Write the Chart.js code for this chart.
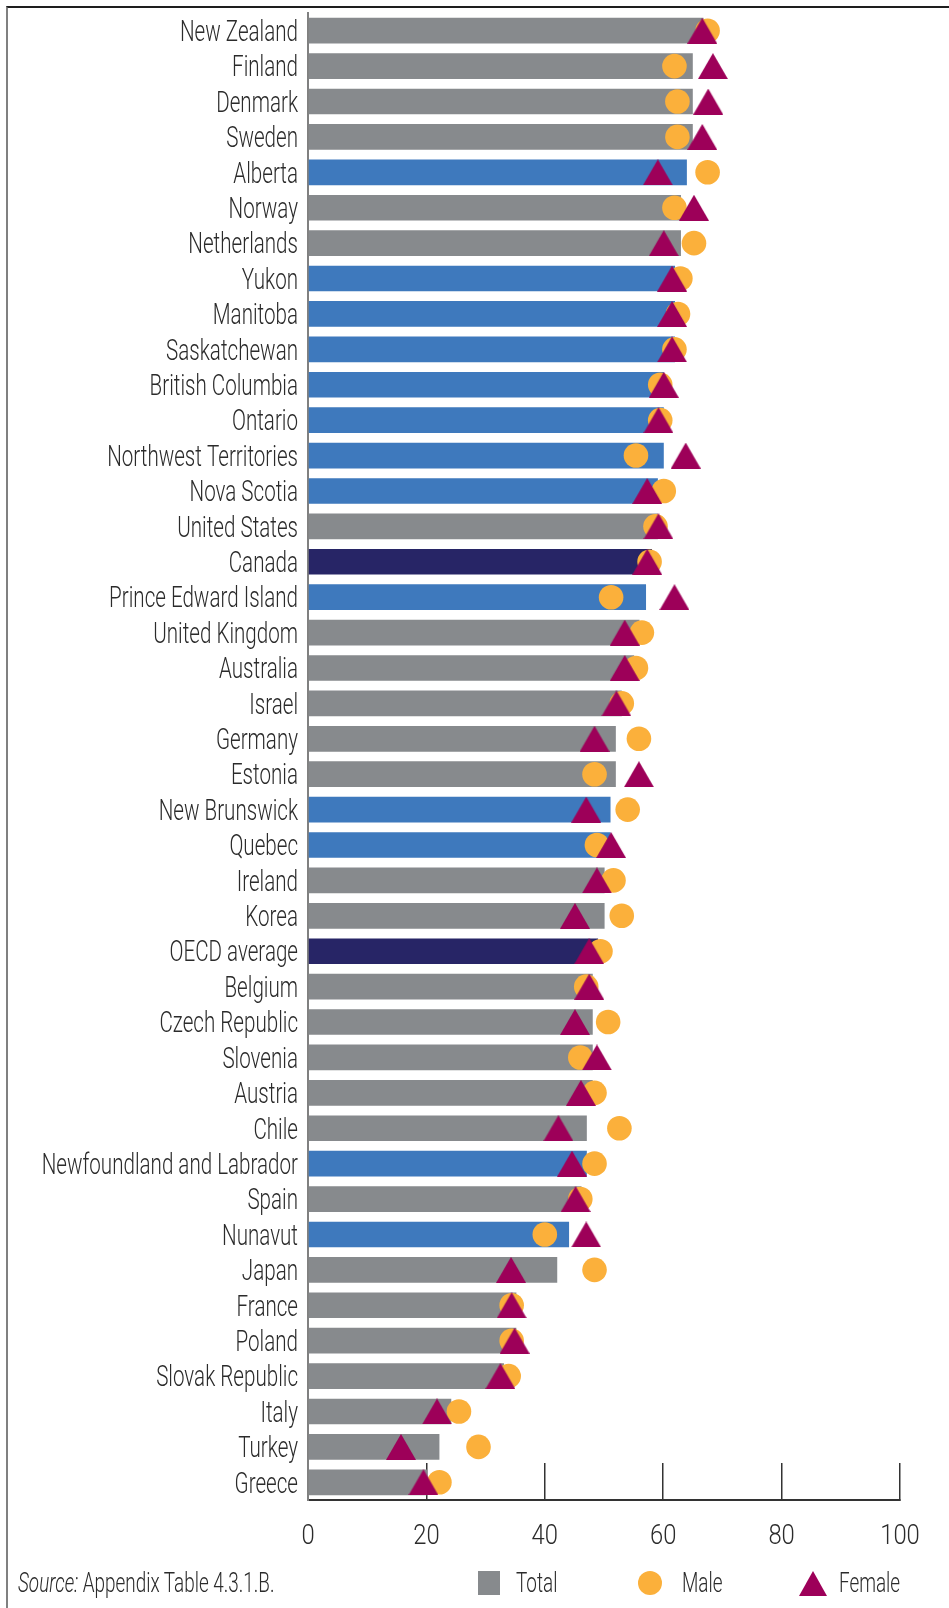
<!DOCTYPE html>
<html>
<head>
<meta charset="utf-8">
<script src="https://cdn.jsdelivr.net/npm/chart.js@4.4.1/dist/chart.umd.min.js"></script>
<style>
  html, body { margin: 0; padding: 0; background: #fff; }
  #wrap { position: relative; width: 949px; height: 1608px; overflow: hidden; }
  #frame { position: absolute; left: 6px; top: 6px; right: 0; bottom: 0;
           border-top: 2px solid #1e1e1e; border-left: 2px solid #808080; }
  canvas { position: absolute; left: 0; top: 0; }
  .foot { position: absolute; top: 1567px; height: 32px; line-height: 32px;
          font-family: Roboto, 'DejaVu Sans', sans-serif; font-weight: 300; font-size: 27px;
          color: #2b2b2b; white-space: nowrap; transform: scaleX(0.7); transform-origin: 0 50%; }
  .mark { position: absolute; top: 1571px; }
</style>
</head>
<body>
<div id="wrap">
  <div id="frame"></div>
  <canvas id="chart" width="949" height="1608"></canvas>
  <div class="foot" style="left:18px"><i>Source:</i> Appendix Table 4.3.1.B.</div>
  <div id="mTotal" class="mark" style="left:478px;width:22px;height:24px"></div>
  <div class="foot" style="left:516px">Total</div>
  <div id="mMale" class="mark" style="left:638px;width:24px;height:24px;border-radius:50%"></div>
  <div class="foot" style="left:682px">Male</div>
  <div id="mFemale" class="mark" style="left:799px;width:28px;height:25px;clip-path:polygon(50% 0,100% 100%,0 100%)"></div>
  <div class="foot" style="left:839px">Female</div>
</div>
<script>
// jurisdictions, top to bottom
const labels = [
  'New Zealand', 'Finland', 'Denmark', 'Sweden', 'Alberta', 'Norway', 'Netherlands',
  'Yukon', 'Manitoba', 'Saskatchewan', 'British Columbia', 'Ontario',
  'Northwest Territories', 'Nova Scotia', 'United States', 'Canada',
  'Prince Edward Island', 'United Kingdom', 'Australia', 'Israel', 'Germany',
  'Estonia', 'New Brunswick', 'Quebec', 'Ireland', 'Korea', 'OECD average',
  'Belgium', 'Czech Republic', 'Slovenia', 'Austria', 'Chile',
  'Newfoundland and Labrador', 'Spain', 'Nunavut', 'Japan', 'France', 'Poland',
  'Slovak Republic', 'Italy', 'Turkey', 'Greece'
];
// c = country, p = province/territory, a = Canada / OECD average
const kind = [
  'c', 'c', 'c', 'c', 'p', 'c', 'c',
  'p', 'p', 'p', 'p', 'p',
  'p', 'p', 'c', 'a',
  'p', 'c', 'c', 'c', 'c',
  'c', 'p', 'p', 'c', 'c', 'a',
  'c', 'c', 'c', 'c', 'c',
  'p', 'c', 'p', 'c', 'c', 'c',
  'c', 'c', 'c', 'c'
];
const totalPct = [
  66.8, 65, 65, 65, 64, 63, 63,
  62, 62, 62, 60.1, 60.1,
  60.1, 59.1, 59.1, 58.1,
  57.1, 56, 55.1, 53, 52,
  52, 51.1, 51.1, 50.1, 50.1, 49,
  48.1, 48.1, 48.1, 48.1, 47.1,
  47.1, 46.2, 44.1, 42.1, 35.2, 35.2,
  33.1, 24.2, 22.2, 20.1
];
const malePct = [
  67.5, 61.9, 62.4, 62.4, 67.5, 61.9, 65.2,
  62.9, 62.5, 61.9, 59.5, 59.5,
  55.4, 60.1, 58.7, 57.7,
  51.2, 56.4, 55.4, 53, 55.9,
  48.4, 54, 48.8, 51.6, 53, 49.4,
  47, 50.7, 46, 48.4, 52.6,
  48.4, 46, 40, 48.4, 34.4, 34.4,
  33.9, 25.5, 28.8, 22.2
];
const femalePct = [
  66.6, 68.4, 67.6, 66.6, 59.1, 65.2, 60.1,
  61.5, 61.5, 61.5, 60.1, 59.2,
  63.8, 57.3, 59.2, 57.3,
  61.9, 53.5, 53.5, 52.1, 48.4,
  55.9, 47, 51.2, 48.8, 45.1, 47.5,
  47.5, 45.1, 48.8, 46.1, 42.3,
  44.6, 45.2, 47, 34.3, 34.4, 34.9,
  32.5, 21.8, 15.7, 19.5
];

const BAR_COLORS = { c: '#878a8d', p: '#3e79bd', a: '#272566' };
const MALE = '#fbb03b';
const FEMALE = '#9d0059';
const INK = '#2b2b2b';

document.getElementById('mTotal').style.background = BAR_COLORS.c;
document.getElementById('mMale').style.background = MALE;
document.getElementById('mFemale').style.background = FEMALE;

// chart.js centres its own triangle on the circumcentre; this one sits on the bar's middle
function triangle(w, h, color) {
  const c = document.createElement('canvas');
  c.width = w; c.height = h;
  const g = c.getContext('2d');
  g.fillStyle = color;
  g.beginPath();
  g.moveTo(w / 2, 0);
  g.lineTo(w, h);
  g.lineTo(0, h);
  g.closePath();
  g.fill();
  return c;
}

// no condensed face is installed, so tick labels are drawn squeezed at the scale's own positions
const condensedTicks = {
  id: 'condensedTicks',
  afterDraw(chart) {
    const ctx = chart.ctx;
    const xs = chart.scales.x, ys = chart.scales.y;
    ctx.save();
    ctx.fillStyle = INK;
    ctx.textBaseline = 'middle';

    ctx.font = '300 29px Roboto';
    ctx.textAlign = 'right';
    ys.ticks.forEach((t, i) => {
      ctx.save();
      ctx.translate(ys.right - 10, ys.getPixelForTick(i) + 3);
      ctx.scale(0.71, 1);
      ctx.fillText(ys.getLabelForValue(t.value), 0, 0);
      ctx.restore();
    });

    ctx.font = '300 28px Roboto';
    ctx.textAlign = 'center';
    xs.ticks.forEach((t, i) => {
      ctx.save();
      ctx.translate(xs.getPixelForTick(i), xs.top + 37);
      ctx.scale(0.85, 1);
      ctx.fillText(String(t.value), 0, 0);
      ctx.restore();
    });
    ctx.restore();
  }
};

new Chart(document.getElementById('chart'), {
  type: 'bar',
  data: {
    labels: labels,
    datasets: [
      {
        label: 'Total',
        data: totalPct,
        backgroundColor: kind.map(k => BAR_COLORS[k]),
        barPercentage: 0.725,
        categoryPercentage: 1,
        order: 2
      },
      {
        type: 'line',
        label: 'Male',
        data: malePct.map((v, i) => ({ x: v, y: labels[i] })),
        showLine: false,
        pointStyle: 'circle',
        pointRadius: 12.3,
        pointHoverRadius: 12.3,
        pointBackgroundColor: MALE,
        pointBorderWidth: 0,
        order: 1
      },
      {
        type: 'line',
        label: 'Female',
        data: femalePct.map((v, i) => ({ x: v, y: labels[i] })),
        showLine: false,
        pointStyle: triangle(30, 26, FEMALE),
        pointBorderWidth: 0,
        order: 0
      }
    ]
  },
  options: {
    indexAxis: 'y',
    responsive: false,
    animation: false,
    layout: { padding: { top: 13, right: 49, bottom: 58, left: 0 } },
    plugins: {
      legend: { display: false },
      tooltip: { enabled: false }
    },
    scales: {
      x: {
        min: 0,
        max: 100,
        ticks: { stepSize: 20, display: false },
        grid: { drawOnChartArea: false, tickLength: -37, color: '#333', lineWidth: 1.5 },
        border: { color: '#333', width: 2 },
        afterFit: s => { s.height = 50; s.paddingLeft = 0; s.paddingRight = 0; }
      },
      y: {
        grid: { display: false },
        border: { color: '#808080', width: 2 },
        ticks: { display: false, autoSkip: false },
        afterFit: s => { s.width = 308; s.paddingTop = 0; s.paddingBottom = 0; }
      }
    }
  },
  plugins: [condensedTicks]
});
</script>
</body>
</html>
